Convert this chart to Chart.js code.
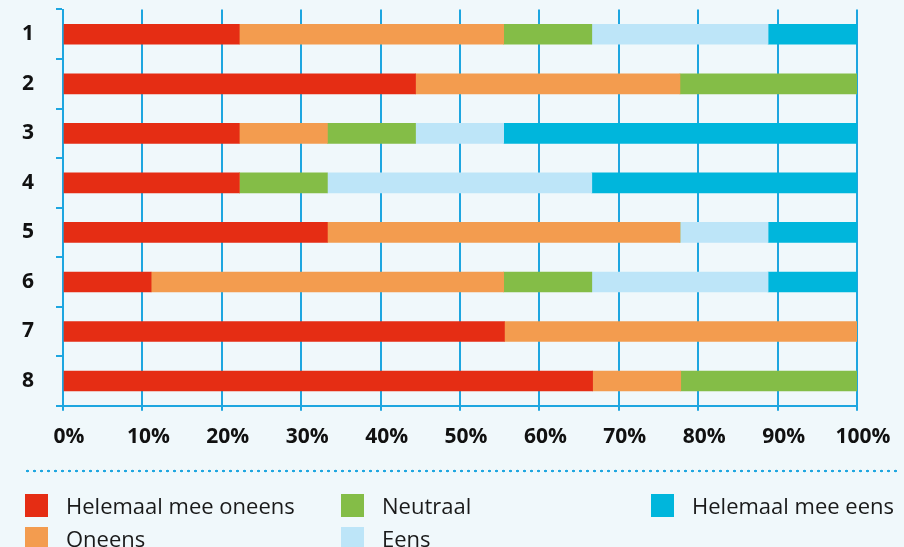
<!DOCTYPE html>
<html lang="nl">
<head>
  <meta charset="UTF-8">
  <title>Stellingen</title>
  <script src="https://cdn.jsdelivr.net/npm/chart.js"></script>
  <style>
    body {
      margin: 0;
      background: #f0f8fb;
      font-family: "Open Sans", "Noto Sans", sans-serif;
      width: 904px;
      height: 547px;
      overflow: hidden;
      position: relative;
    }
    .chart-box {
      position: absolute;
      left: 0;
      top: 0;
      width: 904px;
      height: 464px;
    }
    /* dotted separator */
    .dots {
      position: absolute;
      left: 24px;
      top: 469px;
      width: 874px;
      height: 4px;
      background-image: radial-gradient(circle, #1ea6e0 1.1px, transparent 1.6px);
      background-size: 7px 4px;
      background-repeat: repeat-x;
    }
    .legend {
      position: absolute;
      left: 0;
      top: 0;
      width: 904px;
      height: 547px;
      pointer-events: none;
    }
    .item {
      position: absolute;
      display: flex;
      align-items: center;
      font-size: 22px;
      color: #1a1a1a;
      height: 24px;
    }
    .item span.sw {
      display: inline-block;
      width: 23px;
      height: 23px;
      margin-right: 18px;
    }
  </style>
</head>
<body>
  <div class="chart-box"><canvas id="c"></canvas></div>
  <div class="dots"></div>
  <div class="legend" id="legend"></div>

  <script>
    // statements 1..8, share of answers in %
    const categories = ['1', '2', '3', '4', '5', '6', '7', '8'];
    const seriesNames = ['Helemaal mee oneens', 'Oneens', 'Neutraal', 'Eens', 'Helemaal mee eens'];
    const colors = ['#e52d14', '#f39c4f', '#84bd47', '#bde5f8', '#00b6dc'];

    const helemaalOneens = [22.2, 44.4, 22.2, 22.2, 33.3, 11.1, 55.6, 66.7];
    const oneens         = [33.3, 33.3, 11.1,  0.0, 44.4, 44.4, 44.4, 11.1];
    const neutraal       = [11.1, 22.3, 11.1, 11.1,  0.0, 11.1,  0.0, 22.2];
    const eens           = [22.2,  0.0, 11.1, 33.3, 11.1, 22.2,  0.0,  0.0];
    const helemaalEens   = [11.2,  0.0, 44.5, 33.4, 11.2, 11.2,  0.0,  0.0];

    const xTicks = [0, 10, 20, 30, 40, 50, 60, 70, 80, 90, 100];

    const values = [helemaalOneens, oneens, neutraal, eens, helemaalEens];
    const gridBlue = '#1ea6e0';
    const fontFamily = '"Open Sans", "Noto Sans", sans-serif';

    new Chart(document.getElementById('c'), {
      type: 'bar',
      data: {
        labels: categories,
        datasets: seriesNames.map((name, i) => ({
          label: name,
          data: values[i],
          backgroundColor: colors[i],
          borderWidth: 0,
          barThickness: 20
        }))
      },
      options: {
        indexAxis: 'y',
        responsive: true,
        maintainAspectRatio: false,
        animation: false,
        layout: { padding: { top: 9.5, right: 47, bottom: 0, left: 22 } },
        plugins: {
          legend: { display: false },
          tooltip: { enabled: false }
        },
        scales: {
          x: {
            stacked: true,
            min: 0,
            max: 100,
            afterBuildTicks: (scale) => {
              scale.ticks = xTicks.map(v => ({ value: v }));
            },
            border: { color: gridBlue, width: 2 },
            grid: {
              color: gridBlue,
              lineWidth: 2,
              tickLength: 5,
              drawOnChartArea: true
            },
            ticks: {
              padding: 14,
              labelOffset: 6,
              color: '#111',
              font: { family: fontFamily, size: 21, weight: 'bold' },
              callback: (v) => v + '%'
            }
          },
          y: {
            stacked: true,
            // axis line sits at x = 63
            afterFit: (scale) => { scale.width = 41; },
            border: { color: gridBlue, width: 2 },
            grid: {
              offset: true,
              color: gridBlue,
              lineWidth: 2,
              tickLength: 7,
              drawOnChartArea: false
            },
            ticks: {
              padding: 0,
              crossAlign: 'far',
              color: '#111',
              font: { family: fontFamily, size: 21, weight: 'bold', lineHeight: 0.8 }
            }
          }
        }
      }
    });

    // legend laid out in three columns, filled column by column
    const legendPos = [
      [25, 493], [25, 526],
      [341, 493], [341, 526],
      [651, 493]
    ];
    const legend = document.getElementById('legend');
    seriesNames.forEach((name, i) => {
      const el = document.createElement('div');
      el.className = 'item';
      el.style.left = legendPos[i][0] + 'px';
      el.style.top = legendPos[i][1] + 'px';
      el.innerHTML = '<span class="sw" style="background:' + colors[i] + '"></span>' + name;
      legend.appendChild(el);
    });
  </script>
</body>
</html>
